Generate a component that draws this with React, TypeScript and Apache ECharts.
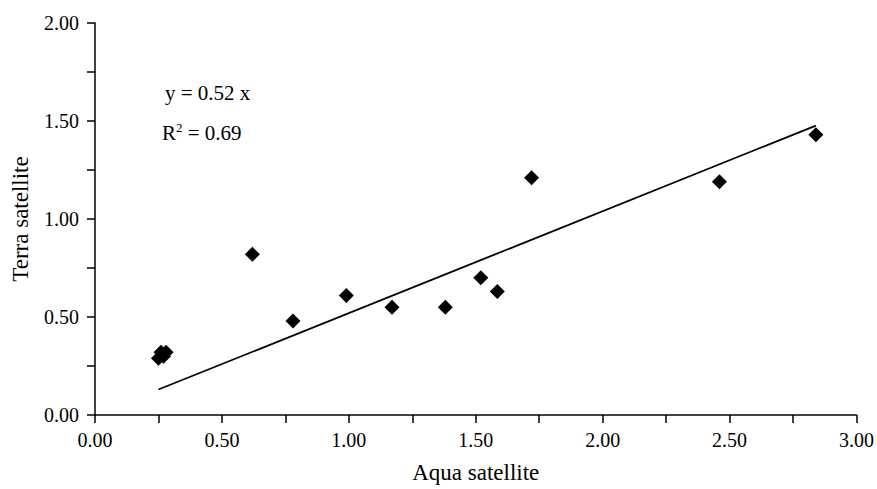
import React, { useEffect, useRef } from "react";
import * as echarts from "echarts";

const aquaValues = [0.25, 0.26, 0.27, 0.28, 0.62, 0.78, 0.99, 1.17, 1.38, 1.52, 1.585, 1.72, 2.46, 2.84];
const terraValues = [0.29, 0.32, 0.30, 0.32, 0.82, 0.48, 0.61, 0.55, 0.55, 0.70, 0.63, 1.21, 1.19, 1.43];
const fitSlope = 0.52;
const fitRange = [0.25, 2.84];
const equationText = "y = 0.52 x";
const r2Value = "0.69";
const xTitle = "Aqua satellite";
const yTitle = "Terra satellite";

const FONT = "Liberation Serif, Times New Roman, serif";

export default function App() {
  const ref = useRef<HTMLDivElement>(null);
  useEffect(() => {
    if (!ref.current) return;
    document.body.style.margin = "0";
    const chart = echarts.init(ref.current, null, { renderer: "svg" });
    const pts = aquaValues.map((x, i) => [x, terraValues[i]]);
    const fit = fitRange.map((x) => [x, fitSlope * x]);
    const fmt = (v: number) => (Math.round(v * 100) % 50 === 0 ? v.toFixed(2) : "");
    chart.setOption({
      animation: false,
      backgroundColor: "#ffffff",
      grid: { left: 95, right: 19, top: 23, bottom: 66, containLabel: false },
      xAxis: {
        type: "value",
        min: 0,
        max: 3,
        interval: 0.25,
        name: xTitle,
        nameLocation: "middle",
        nameGap: 46,
        nameTextStyle: { fontFamily: FONT, fontSize: 23, color: "#000" },
        axisLine: { show: true, lineStyle: { color: "#000", width: 1.5 } },
        axisTick: { show: true, length: 8, inside: false, lineStyle: { color: "#000", width: 1.5 } },
        axisLabel: { formatter: fmt, fontFamily: FONT, fontSize: 20, color: "#000", margin: 15, showMaxLabel: true },
        splitLine: { show: false },
      },
      yAxis: {
        type: "value",
        min: 0,
        max: 2,
        interval: 0.25,
        name: yTitle,
        nameLocation: "middle",
        nameGap: 63,
        nameRotate: 90,
        nameTextStyle: { fontFamily: FONT, fontSize: 23, color: "#000" },
        axisLine: { show: true, lineStyle: { color: "#000", width: 1.5 } },
        axisTick: { show: true, length: 8, inside: false, lineStyle: { color: "#000", width: 1.5 } },
        axisLabel: { formatter: fmt, fontFamily: FONT, fontSize: 20, color: "#000", margin: 16 },
        splitLine: { show: false },
      },
      series: [
        {
          type: "line",
          data: fit,
          symbol: "none",
          lineStyle: { color: "#000", width: 1.8 },
          silent: true,
          z: 2,
        },
        {
          type: "scatter",
          data: pts,
          symbol: "diamond",
          symbolSize: 15,
          itemStyle: { color: "#000", opacity: 1 },
          z: 3,
        },
      ],
      graphic: [
        {
          type: "text",
          left: 165,
          top: 82,
          style: { text: equationText, fontFamily: FONT, fontSize: 21, fill: "#000" },
        },
        {
          type: "text",
          left: 162,
          top: 121,
          style: {
            text: "R{sup|2} = " + r2Value,
            fontFamily: FONT,
            fontSize: 21,
            fill: "#000",
            rich: {
              sup: { fontFamily: FONT, fontSize: 13, verticalAlign: "top", padding: [0, 0, 10, 0], fill: "#000" },
            },
          },
        },
      ],
    });
    return () => chart.dispose();
  }, []);
  return <div ref={ref} style={{ width: 877, height: 489 }} />;
}
